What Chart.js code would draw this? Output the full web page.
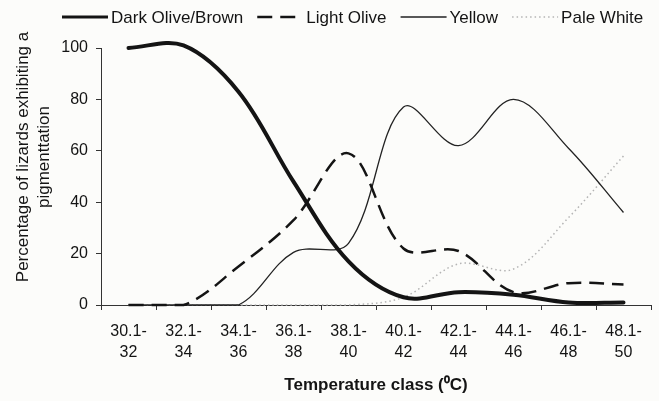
<!DOCTYPE html>
<html lang="en">
<head>
    <meta charset="UTF-8">
    <title>Pigmentation by temperature class</title>
    <script src="https://cdn.jsdelivr.net/npm/chart.js"></script>
    <style>
        html, body { margin: 0; padding: 0; background: #fcfcfa; }
        #wrap { width: 659px; height: 401px; position: relative; }
    </style>
</head>
<body>
<div id="wrap">
    <canvas id="pigmentChart" width="659" height="401"></canvas>
</div>
<script>
    // Temperature classes (°C)
    const temperatureClasses = ['30.1-32', '32.1-34', '34.1-36', '36.1-38', '38.1-40',
                                '40.1-42', '42.1-44', '44.1-46', '46.1-48', '48.1-50'];

    // Percentage of lizards showing each pigmentation
    const darkOliveBrown = [100, 101, 83, 48, 17, 3, 5, 4, 1, 1];
    const lightOlive     = [0, 0, 15, 33, 59, 22, 21, 5, 8.5, 8];
    const yellow         = [0, 0, 0, 20.5, 24, 77, 62, 80, 61, 36];
    const paleWhite      = [0, 0, 0, 0, 0, 3, 16, 14, 34, 58];

    const yTicks = [0, 20, 40, 60, 80, 100];

    const fontFamily = '"Liberation Sans", Arial, sans-serif';
    const ink = '#141414';

    // background, legend and the two-line y title
    const extras = {
        id: 'extras',
        beforeDraw(chart) {
            const ctx = chart.ctx;
            ctx.save();
            ctx.fillStyle = '#fcfcfa';
            ctx.fillRect(0, 0, chart.width, chart.height);
            ctx.restore();
        },
        afterDraw(chart) {
            const ctx = chart.ctx;
            ctx.save();
            ctx.font = '17px ' + fontFamily;
            ctx.textBaseline = 'middle';
            ctx.fillStyle = ink;
            let x = 62;
            const y = 17;
            chart.data.datasets.forEach(ds => {
                ctx.save();
                ctx.strokeStyle = ds.borderColor;
                ctx.lineWidth = Math.min(ds.borderWidth, 3);
                ctx.setLineDash(ds.borderDash || []);
                ctx.beginPath();
                ctx.moveTo(x, y);
                ctx.lineTo(x + 46, y);
                ctx.stroke();
                ctx.restore();
                ctx.textAlign = 'left';
                ctx.fillText(ds.label, x + 49, y + 1);
                x += 49 + ctx.measureText(ds.label).width + 14;
            });

            ctx.translate(23, 157);
            ctx.rotate(-Math.PI / 2);
            ctx.textAlign = 'center';
            ctx.fillText('Percentage of lizards exhibiting a', 0, 0);
            ctx.fillText('pigmenttation', 0, 21);
            ctx.restore();
        }
    };

    const ctx = document.getElementById('pigmentChart').getContext('2d');
    new Chart(ctx, {
        type: 'line',
        data: {
            labels: temperatureClasses,
            datasets: [
                {
                    label: 'Dark Olive/Brown',
                    data: darkOliveBrown,
                    borderColor: ink,
                    borderWidth: 4,
                    borderCapStyle: 'round'
                },
                {
                    label: 'Light Olive',
                    data: lightOlive,
                    borderColor: ink,
                    borderWidth: 2.5,
                    borderDash: [15, 8]
                },
                {
                    label: 'Yellow',
                    data: yellow,
                    borderColor: '#222',
                    borderWidth: 1.3
                },
                {
                    label: 'Pale White',
                    data: paleWhite,
                    borderColor: '#b4b4b4',
                    borderWidth: 1.5,
                    borderDash: [1.5, 3]
                }
            ]
        },
        options: {
            responsive: false,
            animation: false,
            clip: false,
            layout: { padding: { top: 48, right: 8, left: 0, bottom: 0 } },
            elements: {
                point: { radius: 0, hoverRadius: 0 },
                line: { tension: 0.35, fill: false }
            },
            plugins: {
                legend: { display: false },
                tooltip: { enabled: false }
            },
            scales: {
                x: {
                    offset: true,
                    grid: { offset: true, drawOnChartArea: false, tickLength: 5, color: '#333' },
                    border: { color: '#333', width: 1 },
                    ticks: {
                        color: ink,
                        padding: 11,
                        maxRotation: 0,
                        autoSkip: false,
                        font: { family: fontFamily, size: 16, lineHeight: 1.3 },
                        callback: function (value) {
                            const s = this.getLabelForValue(value);
                            const i = s.indexOf('-');
                            return [s.slice(0, i + 1), s.slice(i + 1)];
                        }
                    },
                    title: {
                        display: true,
                        text: 'Temperature class (\u2070C)',
                        color: ink,
                        font: { family: fontFamily, size: 17, weight: 'bold', lineHeight: 1.1 },
                        padding: { top: 0, bottom: 6 }
                    },
                    afterFit: scale => { scale.height = 96; }
                },
                y: {
                    min: 0,
                    max: 100,
                    afterBuildTicks: scale => { scale.ticks = yTicks.map(v => ({ value: v })); },
                    grid: { drawOnChartArea: false, tickLength: 5, color: '#333' },
                    border: { color: '#333', width: 1 },
                    ticks: {
                        color: ink,
                        padding: 8,
                        font: { family: fontFamily, size: 16 }
                    },
                    afterFit: scale => { scale.width = 101; }
                }
            }
        },
        plugins: [extras]
    });
</script>
</body>
</html>
